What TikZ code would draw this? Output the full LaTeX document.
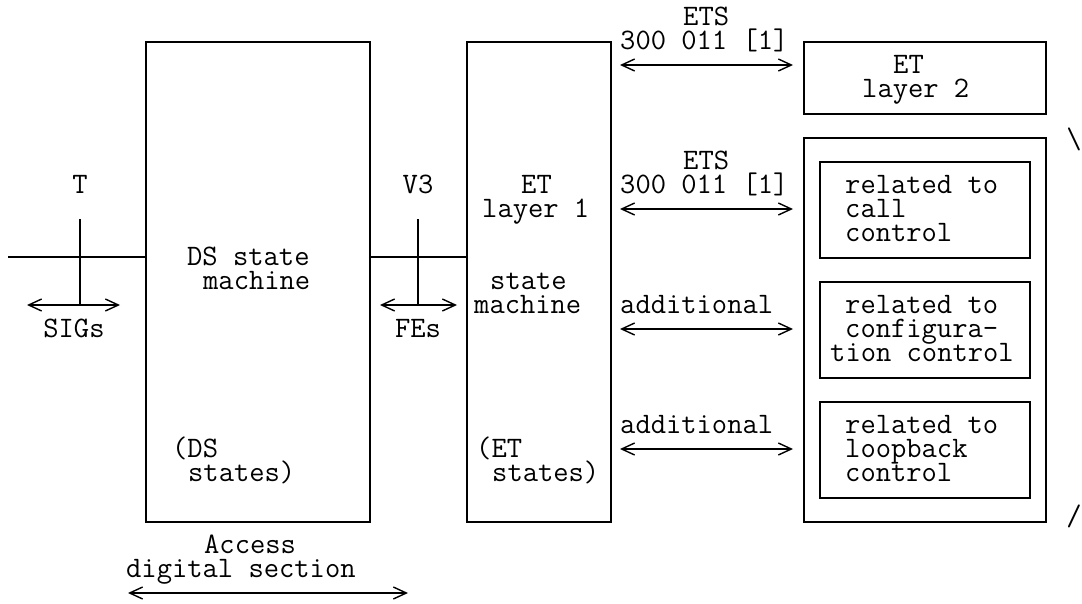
\documentclass[tikz,border=0pt]{standalone}
\usepackage{fontspec}
\usetikzlibrary{arrows.meta}
\begin{document}
\begin{tikzpicture}[x=1pt,y=-1pt,
  box/.style={draw, line width=1.5pt, inner sep=0, anchor=north west},
  ln/.style={line width=1.5pt},
  dbl/.style={line width=1.4pt, {Straight Barb[length=13pt,width=12pt]}-{Straight Barb[length=13pt,width=12pt]}},
  tx/.style={inner sep=0, anchor=base west, text height=17pt, text depth=5pt, font=\ttfamily\fontsize{29.7}{24}\selectfont},
  sym/.style={inner sep=0, anchor=center, font=\ttfamily\fontsize{29.7}{24}\selectfont}]
\useasboundingbox (0,0) rectangle (1082,603);

% boxes
\node[box, minimum width=224, minimum height=480] (ds) at (145,41) {};
\node[box, minimum width=144, minimum height=480] (et) at (466,41) {};
\node[box, minimum width=242, minimum height=72] (l2) at (803,41) {};
\node[box, minimum width=242, minimum height=384] (big) at (803,137) {};
\node[box, minimum width=210, minimum height=96] (call) at (819,161) {};
\node[box, minimum width=210, minimum height=96] (conf) at (819,281) {};
\node[box, minimum width=210, minimum height=96] (loop) at (819,401) {};

% left interface lines
\coordinate (lend) at (8,257);
\draw[ln] (lend) -- (lend -| ds.west);
\draw[ln] (ds.east |- lend) -- (et.west |- lend);
\coordinate (ttop) at (80,219);
\coordinate (tbot) at (80,305);
\draw[ln] (ttop) -- (tbot);
\coordinate (sigl) at (27,305);
\coordinate (sigr) at (120,305);
\draw[dbl] (sigl) -- (sigr);
\coordinate (vtop) at (418,219);
\coordinate (vbot) at (418,305);
\draw[ln] (vtop) -- (vbot);
\coordinate (fel) at (380,305);
\coordinate (fer) at (457,305);
\draw[dbl] (fel) -- (fer);

% right arrows
\coordinate (a1l) at (620,65);  \coordinate (a1r) at (793,65);
\coordinate (a2l) at (620,209); \coordinate (a2r) at (793,209);
\coordinate (a3l) at (620,329); \coordinate (a3r) at (793,329);
\coordinate (a4l) at (620,449); \coordinate (a4r) at (793,449);
\draw[dbl] (a1l) -- (a1r);
\draw[dbl] (a2l) -- (a2r);
\draw[dbl] (a3l) -- (a3r);
\draw[dbl] (a4l) -- (a4r);

% access arrow
\coordinate (accl) at (128,593);
\coordinate (accr) at (408,593);
\draw[dbl] (accl) -- (accr);

% texts
\node[tx] (ets1) at (683,25) {ETS};
\node[tx] (ref1) at (620,49) {300 011 [1]};
\node[tx] (l2a) at (893,73) {ET};
\node[tx] (l2b) at (862,97) {layer 2};
\node[tx] (ets2) at (683,169) {ETS};
\node[tx] (ref2) at (620,193) {300 011 [1]};
\node[tx] (ca) at (845,193) {related to};
\node[tx] (cb) at (845,217) {call};
\node[tx] (cc) at (845,241) {control};
\node[tx, anchor=base] (tlab) at (80,193) {T};
\node[tx, anchor=base] (vlab) at (418,193) {V3};
\node[tx] (eta) at (521,193) {ET};
\node[tx] (etb) at (482,217) {layer 1};
\node[tx] (dsa) at (187,265) {DS state};
\node[tx] (dsb) at (203,289) {machine};
\node[tx] (etc) at (490,289) {state};
\node[tx] (etd) at (474,313) {machine};
\node[tx] (add1) at (620,313) {additional};
\node[tx] (cfa) at (845,313) {related to};
\node[tx] (cfb) at (845,337) {configura-};
\node[tx] (cfc) at (830,361) {tion control};
\node[tx, anchor=base] (sigs) at (74,337) {SIGs};
\node[tx, anchor=base] (fes) at (418,337) {FEs};
\node[tx] (add2) at (620,433) {additional};
\node[tx] (lpa) at (845,433) {related to};
\node[tx] (lpb) at (845,457) {loopback};
\node[tx] (lpc) at (845,481) {control};
\node[tx] (dsc) at (172,457) {(DS};
\node[tx] (dsd) at (188,481) {states)};
\node[tx] (ete) at (476,457) {(ET};
\node[tx] (etf) at (492,481) {states)};
\node[tx] (acca) at (204,553) {Access};
\node[tx] (accb) at (126,577) {digital section};
\node[sym] (bsl) at (1074,139) {\textbackslash};
\node[sym] (sl) at (1074,516) {/};
\end{tikzpicture}
\end{document}
